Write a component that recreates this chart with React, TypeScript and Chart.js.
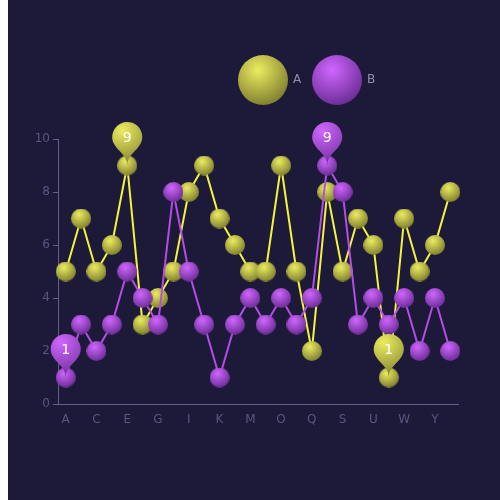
import React, { useEffect, useRef } from 'react';
import { Chart, registerables } from 'chart.js';

Chart.register(...registerables);

const categories = ['A','B','C','D','E','F','G','H','I','J','K','L','M','N','O','P','Q','R','S','T','U','V','W','X','Y','Z'];
const seriesNames = ['A', 'B'];
const seriesA = [5,7,5,6,9,3,4,5,8,9,7,6,5,5,9,5,2,8,5,7,6,1,7,5,6,8];
const seriesB = [1,3,2,3,5,4,3,8,5,3,1,3,4,3,4,3,4,9,8,3,4,3,4,2,4,2];
const yTicks = [0, 2, 4, 6, 8, 10];

const BG = '#1c1a38';
const AXIS = '#635f8a';
const LABEL = '#5a567e';
const LEGEND_TEXT = '#908ea8';
const FONT = 'DejaVu Sans';

const palette = [
  { line: '#f4f43c', light: '#ecec60', dark: '#55551c' },
  { line: '#b64ce8', light: '#d066ff', dark: '#45176e' },
];

function sphereGradient(ctx: CanvasRenderingContext2D, bx: number, by: number, w: number, h: number, light: string, dark: string) {
  const cx = bx + 0.4 * w;
  const cy = by + 0.3 * h;
  const g = ctx.createRadialGradient(cx, cy, 0, cx, cy, Math.min(w, h));
  g.addColorStop(0, light);
  g.addColorStop(1, dark);
  return g;
}

function makeSphere(r: number, light: string, dark: string) {
  const c = document.createElement('canvas');
  c.width = 2 * r;
  c.height = 2 * r;
  const g = c.getContext('2d')!;
  g.fillStyle = sphereGradient(g, 0, 0, 2 * r, 2 * r, light, dark);
  g.beginPath();
  g.arc(r, r, r, 0, Math.PI * 2);
  g.fill();
  return c;
}

function pinPath(ctx: CanvasRenderingContext2D, x: number, y: number, width: number, height: number) {
  const w = (width / 5) * 3;
  const h = Math.max(w, height);
  const r = w / 2;
  const dy = (r * r) / (h - r);
  const cy = y - h + r + dy;
  const angle = Math.asin(dy / r);
  const dx = Math.cos(angle) * r;
  const tanX = Math.sin(angle);
  const tanY = Math.cos(angle);
  const cpLen = r * 0.6;
  const cpLen2 = r * 0.7;
  ctx.beginPath();
  ctx.moveTo(x - dx, cy + dy);
  ctx.arc(x, cy, r, Math.PI - angle, Math.PI * 2 + angle);
  ctx.bezierCurveTo(x + dx - tanX * cpLen, cy + dy + tanY * cpLen, x, y - cpLen2, x, y);
  ctx.bezierCurveTo(x, y - cpLen2, x - dx + tanX * cpLen, cy + dy + tanY * cpLen, x - dx, cy + dy);
  ctx.closePath();
}

const pinPlugin = {
  id: 'pins',
  afterDatasetsDraw(chart: any) {
    const ctx = chart.ctx as CanvasRenderingContext2D;
    chart.data.datasets.forEach((ds: any, di: number) => {
      const meta = chart.getDatasetMeta(di);
      const vals = ds.data as number[];
      const maxV = Math.max(...vals);
      const minV = Math.min(...vals);
      const idxs = [vals.indexOf(maxV), vals.indexOf(minV)];
      idxs.forEach((i) => {
        const el = meta.data[i];
        const x = el.x;
        const y = el.y;
        const size = 50;
        ctx.save();
        pinPath(ctx, x, y, size, size);
        ctx.fillStyle = sphereGradient(ctx, x - size / 2, y - size, size, size, palette[di].light, palette[di].dark);
        ctx.fill();
        ctx.fillStyle = '#ffffff';
        ctx.font = `14px "${FONT}"`;
        ctx.textAlign = 'center';
        ctx.textBaseline = 'middle';
        ctx.fillText(String(vals[i]), x, y - 27);
        ctx.restore();
      });
    });
  },
};

const legendPlugin = {
  id: 'sphereLegend',
  afterDraw(chart: any) {
    const ctx = chart.ctx as CanvasRenderingContext2D;
    const r = 25;
    const cy = 80;
    const startX = 230;
    const itemGap = 74;
    seriesNames.forEach((name, i) => {
      const cx = startX + r + i * itemGap;
      ctx.save();
      ctx.beginPath();
      ctx.arc(cx, cy, r, 0, Math.PI * 2);
      ctx.fillStyle = sphereGradient(ctx, cx - r, cy - r, 2 * r, 2 * r, palette[i].light, palette[i].dark);
      ctx.fill();
      ctx.fillStyle = LEGEND_TEXT;
      ctx.font = `12px "${FONT}"`;
      ctx.textAlign = 'left';
      ctx.textBaseline = 'middle';
      ctx.fillText(name, cx + r + 5, cy);
      ctx.restore();
    });
  },
};

export default function App() {
  const ref = useRef<HTMLCanvasElement | null>(null);

  useEffect(() => {
    if (!ref.current) return;
    const sphereA = makeSphere(10, palette[0].light, palette[0].dark);
    const sphereB = makeSphere(10, palette[1].light, palette[1].dark);
    const chart = new Chart(ref.current, {
      type: 'line',
      data: {
        labels: categories,
        datasets: [
          {
            label: seriesNames[0],
            data: seriesA,
            borderColor: palette[0].line,
            borderWidth: 2,
            tension: 0,
            pointStyle: sphereA as any,
            pointRadius: 10,
            order: 1,
          },
          {
            label: seriesNames[1],
            data: seriesB,
            borderColor: palette[1].line,
            borderWidth: 2,
            tension: 0,
            pointStyle: sphereB as any,
            pointRadius: 10,
            order: 0,
          },
        ],
      },
      options: {
        animation: false,
        responsive: true,
        maintainAspectRatio: false,
        layout: { padding: { left: 0, right: 42, top: 139, bottom: 66 } },
        plugins: {
          legend: { display: false },
          tooltip: { enabled: false },
        },
        scales: {
          x: {
            type: 'category',
            offset: true,
            grid: { display: false },
            border: { display: true, color: AXIS, width: 1 },
            ticks: {
              color: LABEL,
              font: { family: FONT, size: 12 },
              padding: 1,
              autoSkip: false,
              maxRotation: 0,
              callback: (_v: any, i: number) => (i % 2 === 0 ? categories[i] : ''),
            },
            afterFit: (s: any) => { s.height = 30; },
          },
          y: {
            min: 0,
            max: 10,
            afterBuildTicks: (s: any) => { s.ticks = yTicks.map((v) => ({ value: v })); },
            grid: { drawOnChartArea: false, drawTicks: true, tickLength: 5, color: AXIS },
            border: { display: true, color: AXIS, width: 1 },
            ticks: {
              color: LABEL,
              font: { family: FONT, size: 12 },
              padding: 3,
            },
            afterFit: (s: any) => { s.width = 50; },
          },
        },
      },
      plugins: [pinPlugin, legendPlugin],
    });
    return () => chart.destroy();
  }, []);

  return (
    <div style={{ position: 'absolute', left: 8, top: 0, width: 492, height: 500, background: BG }}>
      <canvas ref={ref} />
    </div>
  );
}
